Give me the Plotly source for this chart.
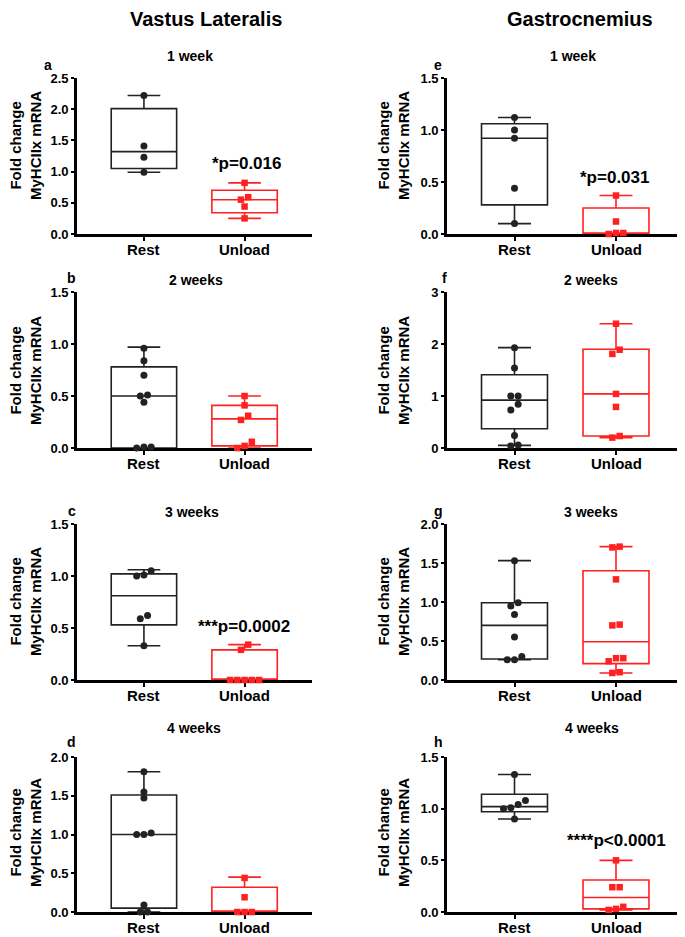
import plotly.graph_objects as go

FONT = "Liberation Sans, Arial, sans-serif"
NARROW = "Liberation Sans Narrow, Arial Narrow, Liberation Sans, sans-serif"

# ---------------- data ----------------
groups = ["Rest", "Unload"]
muscles = ["Vastus Lateralis", "Gastrocnemius"]
weeks = ["1 week", "2 weeks", "3 weeks", "4 weeks"]
letters = [["a", "b", "c", "d"], ["e", "f", "g", "h"]]

# individual values (Vastus Lateralis)
a_rest = [2.22, 1.41, 1.23, 0.99]
a_unload = [0.82, 0.59, 0.55, 0.44, 0.25]
b_rest = [0.96, 0.84, 0.70, 0.51, 0.50, 0.44, 0.01, 0.00, 0.01]
b_unload = [0.50, 0.41, 0.31, 0.27, 0.06, 0.02, 0.00]
c_rest = [1.05, 1.01, 1.00, 0.62, 0.59, 0.33]
c_unload = [0.34, 0.29, 0.00, 0.00, 0.00, 0.00, 0.00]
d_rest = [1.81, 1.55, 1.47, 1.02, 1.00, 1.00, 0.09, 0.00, 0.00]
d_unload = [0.44, 0.19, 0.00, 0.00, 0.00]
# individual values (Gastrocnemius)
e_rest = [1.12, 1.00, 0.92, 0.44, 0.10]
e_unload = [0.37, 0.12, 0.01, 0.00, 0.01]
f_rest = [1.93, 1.54, 1.00, 1.00, 0.84, 0.73, 0.24, 0.06, 0.04]
f_unload = [2.39, 1.89, 1.81, 1.04, 0.79, 0.23, 0.20]
g_rest = [1.53, 0.99, 0.95, 0.84, 0.55, 0.30, 0.26, 0.26]
g_unload = [1.71, 1.70, 1.29, 0.71, 0.70, 0.28, 0.28, 0.24, 0.10, 0.09]
h_rest = [1.33, 1.08, 1.04, 1.01, 1.00, 0.90]
h_unload = [0.50, 0.24, 0.24, 0.05, 0.02, 0.03]

# box statistics: [min, q1, median, q3, max]
a_rest_box = [0.99, 1.05, 1.32, 2.01, 2.22]
a_unload_box = [0.25, 0.34, 0.55, 0.70, 0.82]
b_rest_box = [0.00, 0.00, 0.50, 0.78, 0.97]
b_unload_box = [0.00, 0.02, 0.28, 0.41, 0.50]
c_rest_box = [0.33, 0.53, 0.81, 1.02, 1.06]
c_unload_box = [0.00, 0.00, 0.00, 0.29, 0.34]
d_rest_box = [0.00, 0.05, 1.00, 1.51, 1.81]
d_unload_box = [0.00, 0.00, 0.00, 0.32, 0.45]
e_rest_box = [0.10, 0.28, 0.92, 1.06, 1.12]
e_unload_box = [0.00, 0.00, 0.00, 0.25, 0.37]
f_rest_box = [0.05, 0.37, 0.92, 1.41, 1.93]
f_unload_box = [0.20, 0.23, 1.04, 1.90, 2.39]
g_rest_box = [0.26, 0.27, 0.70, 0.99, 1.53]
g_unload_box = [0.09, 0.21, 0.49, 1.40, 1.71]
h_rest_box = [0.90, 0.97, 1.02, 1.14, 1.33]
h_unload_box = [0.02, 0.03, 0.14, 0.31, 0.50]

# y axis maxima and tick steps
y_max = [[2.5, 1.5, 1.5, 2.0], [1.5, 3.0, 2.0, 1.5]]
y_step = [[0.5, 0.5, 0.5, 0.5], [0.5, 1.0, 0.5, 0.5]]

# significance labels: (stars, text) or None
p_labels = [[("*", "p=0.016"), None, ("***", "p=0.0002"), None],
            [("*", "p=0.031"), None, None, ("****", "p<0.0001")]]

points = [[(a_rest, a_unload), (b_rest, b_unload), (c_rest, c_unload), (d_rest, d_unload)],
          [(e_rest, e_unload), (f_rest, f_unload), (g_rest, g_unload), (h_rest, h_unload)]]
boxes = [[(a_rest_box, a_unload_box), (b_rest_box, b_unload_box), (c_rest_box, c_unload_box), (d_rest_box, d_unload_box)],
         [(e_rest_box, e_unload_box), (f_rest_box, f_unload_box), (g_rest_box, g_unload_box), (h_rest_box, h_unload_box)]]

# ---------------- layout geometry (screen pixels) ----------------
W, H = 685, 937
PAGE_OFFSET = 8          # default body margin of the page
col_x = [(77, 312), (447, 684)]
row_y = [(78, 234), (292, 448), (524, 680), (757, 912)]
title_y = [56, 280, 512, 728]
title_x = [[190, 196, 192, 194], [573, 591, 591, 592]]
letter_x = [[48, 72, 72, 72], [438, 444, 438, 438]]
letter_y = [65, 278, 511, 742]
ytitle_x = [25, 393]
ytitle_y = [146, 371, 602, 833]
header_x = [206, 580]
header_y = 19
xlabel_gap = 15
p_pos = [[(246, 163), None, (244, 626), None],
         [(614, 177), None, None, (616, 840)]]
X_RANGE = [-0.665, 1.67]

BLACK = "#222222"
RED = "#ff2020"
colors = [BLACK, RED]
symbols = ["circle", "square"]
msizes = [7, 6.5]


def px_x(p):
    return (p - PAGE_OFFSET) / W


def px_y(p):
    return 1 - (p - PAGE_OFFSET) / H


def spread(vals, ymax, h_px, step=0.072, min_px=6.0):
    """Compute horizontal offsets for overlapping points (scatter-dot style)."""
    ppu = h_px / ymax
    order = sorted(range(len(vals)), key=lambda i: vals[i])
    offs = [0.0] * len(vals)
    clusters, cur = [], [order[0]]
    for i in order[1:]:
        if (vals[i] - vals[cur[-1]]) * ppu < min_px:
            cur.append(i)
        else:
            clusters.append(cur)
            cur = [i]
    clusters.append(cur)
    for c in clusters:
        k = len(c)
        for j, i in enumerate(c):
            offs[i] = (j - (k - 1) / 2) * step
    return offs


fig = go.Figure()
annotations = []
layout = {}

idx = 0
for ci in range(2):
    for ri in range(4):
        idx += 1
        xa = "x" if idx == 1 else f"x{idx}"
        ya = "y" if idx == 1 else f"y{idx}"
        ymax = y_max[ci][ri]
        h_px = row_y[ri][1] - row_y[ri][0]
        for gi in range(2):
            st = boxes[ci][ri][gi]
            fig.add_trace(go.Box(
                x=[gi], lowerfence=[st[0]], q1=[st[1]], median=[st[2]],
                q3=[st[3]], upperfence=[st[4]],
                width=0.65, whiskerwidth=0.5,
                line=dict(color=colors[gi], width=1.6),
                fillcolor="rgba(255,255,255,0)",
                boxpoints=False, xaxis=xa, yaxis=ya,
                showlegend=False, hoverinfo="skip"))
        for gi in range(2):
            vals = points[ci][ri][gi]
            offs = spread(vals, ymax, h_px)
            fig.add_trace(go.Scatter(
                x=[gi + o for o in offs], y=vals, mode="markers",
                marker=dict(symbol=symbols[gi], size=msizes[gi], color=colors[gi],
                            line=dict(width=0)),
                cliponaxis=False, xaxis=xa, yaxis=ya,
                showlegend=False, hoverinfo="skip"))

        axkey = "xaxis" if idx == 1 else f"xaxis{idx}"
        aykey = "yaxis" if idx == 1 else f"yaxis{idx}"
        layout[axkey] = dict(
            domain=[px_x(col_x[ci][0]), min(1.0, px_x(col_x[ci][1]))],
            anchor=ya, range=X_RANGE, tickvals=[0, 1], showticklabels=False,
            showline=True, linecolor="black", linewidth=2.6,
            ticks="outside", ticklen=4, tickwidth=2, tickcolor="black",
            showgrid=False, zeroline=False, layer="below traces",
            automargin=False, fixedrange=True)
        fmt = ".0f" if y_step[ci][ri] >= 1 else ".1f"
        layout[aykey] = dict(
            domain=[px_y(row_y[ri][1]), px_y(row_y[ri][0])],
            anchor=xa, range=[0, ymax], tick0=0, dtick=y_step[ci][ri], tickformat=fmt,
            showline=True, linecolor="black", linewidth=2.6,
            ticks="outside", ticklen=3, tickwidth=2, tickcolor="black",
            tickfont=dict(family=FONT, size=13, color="black", weight="bold"),
            showgrid=False, zeroline=False, layer="below traces",
            automargin=False, fixedrange=True)

        # category labels under the x axis
        for gi in range(2):
            annotations.append(dict(
                x=gi, y=px_y(row_y[ri][1] + xlabel_gap), xref=xa, yref="paper",
                text=f"<b>{groups[gi]}</b>", showarrow=False,
                xanchor="center", yanchor="middle",
                font=dict(family=FONT, size=15, color="black")))
        # panel title
        annotations.append(dict(
            x=px_x(title_x[ci][ri]), y=px_y(title_y[ri]), xref="paper", yref="paper",
            text=f"<b>{weeks[ri]}</b>", showarrow=False, xanchor="center", yanchor="middle",
            font=dict(family=FONT, size=14, color="black")))
        # panel letter
        annotations.append(dict(
            x=px_x(letter_x[ci][ri]), y=px_y(letter_y[ri]), xref="paper", yref="paper",
            text=f"<b>{letters[ci][ri]}</b>", showarrow=False, xanchor="center", yanchor="middle",
            font=dict(family=FONT, size=14, color="black")))
        # y title
        annotations.append(dict(
            x=px_x(ytitle_x[ci]), y=px_y(ytitle_y[ri]), xref="paper", yref="paper",
            text="<b>Fold change<br>MyHCIIx mRNA</b>", showarrow=False, textangle=-90,
            xanchor="center", yanchor="middle",
            font=dict(family=FONT, size=15, color="black")))
        # significance
        pl = p_labels[ci][ri]
        if pl is not None:
            px, py = p_pos[ci][ri]
            annotations.append(dict(
                x=px_x(px), y=px_y(py), xref="paper", yref="paper",
                text=f"<b>{pl[0]}{pl[1]}</b>",
                showarrow=False, xanchor="center", yanchor="middle",
                font=dict(family=FONT, size=17, color="black")))

# column headers
for name, cx in zip(muscles, header_x):
    annotations.append(dict(
        x=px_x(cx), y=px_y(header_y), xref="paper", yref="paper",
        text=f"<b>{name}</b>", showarrow=False, xanchor="center", yanchor="middle",
        font=dict(family=NARROW, size=20, color="black")))

fig.update_layout(
    width=W, height=H, margin=dict(l=0, r=0, t=0, b=0, autoexpand=False),
    paper_bgcolor="white", plot_bgcolor="white",
    annotations=annotations, **layout)

fig.write_html("out.html", config={"displayModeBar": False})
